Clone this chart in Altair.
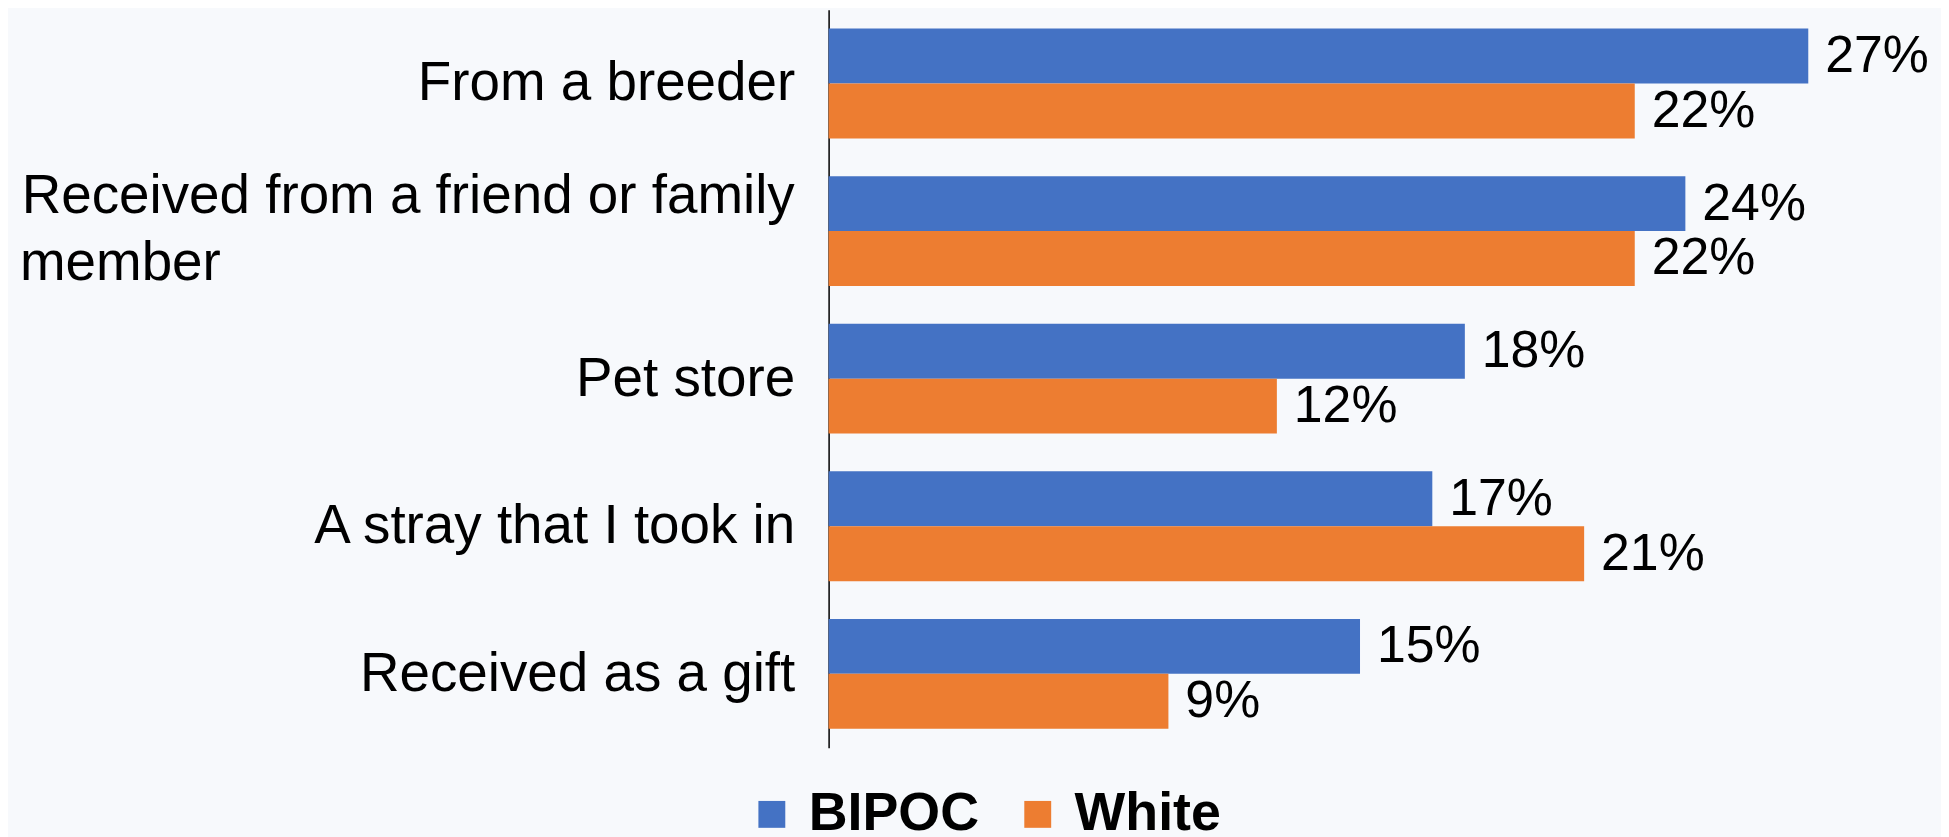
import altair as alt
import pandas as pd

categories = [
    "From a breeder",
    "Received from a friend or family member",
    "Pet store",
    "A stray that I took in",
    "Received as a gift",
]
long_label_lines = ["Received from a friend or family", "member"]
series = ["BIPOC", "White"]
bipoc = [27.1, 23.7, 17.6, 16.7, 14.7]
white = [22.3, 22.3, 12.4, 20.9, 9.4]
colors = ["#4472C4", "#ED7D31"]

rows = []
for c, b, w in zip(categories, bipoc, white):
    rows.append({"category": c, "group": series[0], "value": b})
    rows.append({"category": c, "group": series[1], "value": w})
df = pd.DataFrame(rows)

long_cat = categories[1]
df_long1 = pd.DataFrame({"category": [long_cat], "text": [long_label_lines[0]]})
df_long2 = pd.DataFrame({"category": [long_cat], "text": [long_label_lines[1]]})

FONT = "Liberation Sans"
label_expr = f"datum.value == '{long_cat}' ? '' : datum.value"

y_scale = alt.Scale(domain=categories, paddingInner=0.256, paddingOuter=0.128)
y_enc = alt.Y(
    "category:N",
    sort=categories,
    scale=y_scale,
    axis=alt.Axis(
        title=None,
        ticks=False,
        grid=False,
        domain=True,
        domainColor="#000000",
        domainWidth=1.5,
        labelFont=FONT,
        labelFontSize=55,
        labelColor="#000000",
        labelPadding=34,
        labelLimit=2000,
        labelExpr=label_expr,
    ),
)
yoff = alt.YOffset("group:N", sort=series, scale=alt.Scale(paddingInner=0, paddingOuter=0))
x_enc = alt.X("value:Q", scale=alt.Scale(domain=[0, 30]), axis=None)

bars = alt.Chart(df).mark_bar().encode(
    x=x_enc,
    y=y_enc,
    yOffset=yoff,
    color=alt.Color(
        "group:N",
        sort=series,
        scale=alt.Scale(domain=series, range=colors),
        legend=alt.Legend(
            title=None,
            orient="none",
            direction="horizontal",
            legendX=-84,
            legendY=781,
            symbolType="square",
            symbolSize=729,
            symbolStrokeWidth=0,
            symbolOpacity=1,
            labelFont=FONT,
            labelFontSize=54,
            labelFontWeight="bold",
            labelColor="#000000",
            labelLimit=1000,
            labelOffset=10,
            columnPadding=31,
            padding=0,
        ),
    ),
)

pct = alt.Chart(df).mark_text(
    align="left", baseline="middle", dx=17, font=FONT, fontSize=52, color="#000000"
).encode(
    x=x_enc,
    y=y_enc,
    yOffset=yoff,
    text="lbl:N",
).transform_calculate(lbl="format(datum.value, '.0f') + '%'")

line1 = alt.Chart(df_long1).mark_text(
    align="right", baseline="middle", dx=-34, dy=-35, font=FONT, fontSize=55, color="#000000"
).encode(x=alt.datum(0), y=y_enc, text="text:N")

line2 = alt.Chart(df_long2).mark_text(
    align="left", baseline="middle", dx=-812, dy=32, font=FONT, fontSize=55, color="#000000"
).encode(x=alt.datum(0), y=y_enc, text="text:N")

chart = (
    alt.layer(bars, pct, line1, line2)
    .properties(
        width=1089,
        height=741,
        autosize=alt.AutoSizeParams(type="none"),
        padding={"left": 824, "top": 0, "right": 28, "bottom": 88},
        background="#f7f9fc",
    )
    .configure_view(stroke=None)
)

chart.save("out.html", embed_options={"renderer": "svg", "actions": False})
